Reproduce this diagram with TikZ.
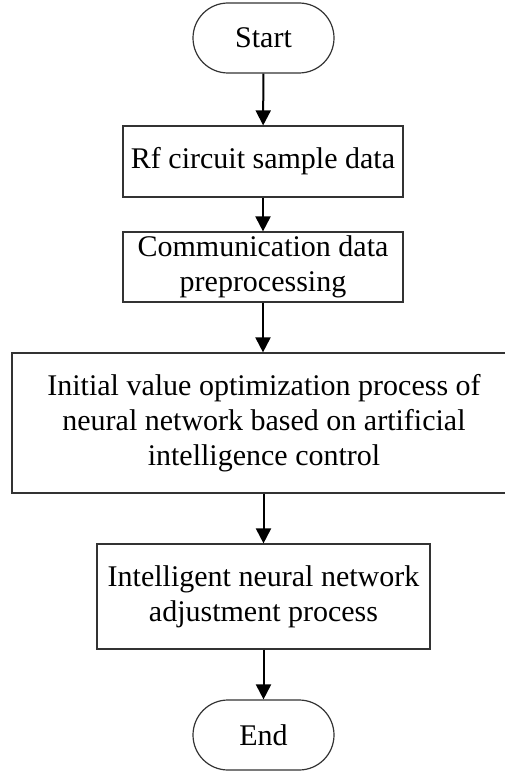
\documentclass[tikz,border=0pt]{standalone}
\usepackage{fontspec}
\setmainfont{Liberation Serif}
\usetikzlibrary{arrows.meta}
\begin{document}
\begin{tikzpicture}[x=1pt,y=-1pt,
  box/.style={draw=black!80, line width=1.2pt, fill=white, align=center, inner sep=0pt,
    font=\fontsize{30}{35}\selectfont},
  term/.style={box, rounded corners=35pt, minimum width=141pt, minimum height=70pt},
  flow/.style={line width=2pt, -{Triangle[width=15pt,length=15pt]}}]
\useasboundingbox (0,0) rectangle (504,773);
\node[term] (start) at (263.5,38) {Start};
\node[box, minimum width=280pt, minimum height=71pt] (b1) at (263,161.5) {Rf circuit sample data};
\node[box, minimum width=280pt, minimum height=70pt] (b2) at (263,267) {Communication data\\preprocessing};
\node[box, minimum width=504pt, minimum height=140pt] (b3) at (264,423) {Initial value optimization process of\\neural network based on artificial\\intelligence control};
\node[box, minimum width=333pt, minimum height=105pt] (b4) at (263.5,596.5) {Intelligent neural network\\adjustment process};
\node[term] (end) at (263.5,735) {End};
\draw[flow] (start) -- (b1);
\draw[flow] (b1) -- (b2);
\draw[flow] (b2) -- (b2 |- b3.north);
\draw[flow] (b3.south -| b4) -- (b4);
\draw[flow] (b4) -- (end);
\end{tikzpicture}
\end{document}
